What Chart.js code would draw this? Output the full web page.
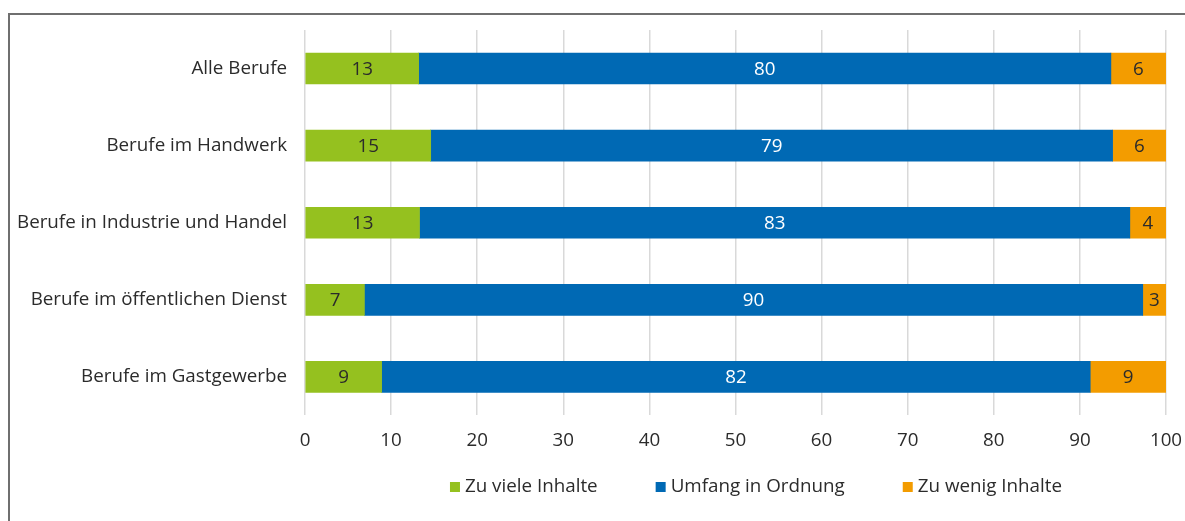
<!DOCTYPE html>
<html><head><meta charset="utf-8">
<script src="https://cdn.jsdelivr.net/npm/chart.js@4/dist/chart.umd.min.js"></script>
<style>
html,body{margin:0;padding:0;background:#fff;width:1185px;height:521px;overflow:hidden;}
#frame{position:absolute;left:8px;top:13px;width:1300px;height:700px;border-top:2px solid #6f6f6f;border-left:2px solid #6f6f6f;box-sizing:border-box;}
#wrap{position:absolute;left:0;top:0;width:1185px;height:521px;}
</style></head>
<body>
<div id="frame"></div>
<div id="wrap"><canvas id="c" width="1185" height="521"></canvas></div>
<script>
const categories = ["Alle Berufe","Berufe im Handwerk","Berufe in Industrie und Handel","Berufe im öffentlichen Dienst","Berufe im Gastgewerbe"];
const seriesNames = ["Zu viele Inhalte","Umfang in Ordnung","Zu wenig Inhalte"];
const zuViele = [13.2, 14.6, 13.3, 6.9, 8.9];
const umfangOk = [80.4, 79.2, 82.5, 90.4, 82.3];
const zuWenig = [6.4, 6.2, 4.2, 2.7, 8.8];
const xTicks = [0,10,20,30,40,50,60,70,80,90,100];

const FONT = "'Open Sans', 'Noto Sans', sans-serif";
const FS = 18.8;
const colors = ["#95c11f","#0069b4","#f39c00"];
const labelColors = ["#2b2b2b","#ffffff","#2b2b2b"];

const valueLabels = {
  id:'valueLabels',
  afterDatasetsDraw(chart){
    const ctx = chart.ctx;
    ctx.save();
    ctx.font = FS + "px " + FONT;
    ctx.textAlign = 'center';
    ctx.textBaseline = 'middle';
    chart.data.datasets.forEach((ds,i)=>{
      const meta = chart.getDatasetMeta(i);
      meta.data.forEach((el,j)=>{
        const cx = (el.x + el.base)/2;
        ctx.fillStyle = labelColors[i];
        ctx.fillText(String(Math.round(ds.data[j])), cx, el.y+1);
      });
    });
    ctx.restore();
  }
};

const customLegend = {
  id:'customLegend',
  afterDraw(chart){
    const ctx = chart.ctx;
    ctx.save();
    ctx.font = FS + "px " + FONT;
    ctx.textBaseline = 'middle';
    ctx.textAlign = 'left';
    const box = 10, gapText = 5, gapItem = 58, cy = 487, centerX = 756;
    const items = chart.data.datasets.map(ds=>({t:ds.label, c:ds.backgroundColor, w:ctx.measureText(ds.label).width}));
    const total = items.reduce((a,it)=>a+box+gapText+it.w,0) + gapItem*(items.length-1);
    let x = centerX - total/2;
    items.forEach(it=>{
      ctx.fillStyle = it.c;
      ctx.fillRect(x, cy-box/2, box, box);
      ctx.fillStyle = '#2b2b2b';
      ctx.fillText(it.t, x+box+gapText, cy);
      x += box+gapText+it.w+gapItem;
    });
    ctx.restore();
  }
};

new Chart(document.getElementById('c'), {
  type:'bar',
  data:{
    labels: categories,
    datasets:[
      {label:seriesNames[0], data:zuViele, backgroundColor:colors[0]},
      {label:seriesNames[1], data:umfangOk, backgroundColor:colors[1]},
      {label:seriesNames[2], data:zuWenig, backgroundColor:colors[2]}
    ]
  },
  options:{
    indexAxis:'y',
    responsive:false,
    animation:false,
    layout:{padding:{top:30,right:19,bottom:55,left:0}},
    datasets:{bar:{barThickness:31}},
    scales:{
      x:{
        stacked:true, min:0, max:100,
        afterBuildTicks(s){ s.ticks = xTicks.map(v=>({value:v})); },
        afterFit(s){ s.paddingRight = 0; s.paddingLeft = 0; },
        grid:{color:'#d9d9d9', lineWidth:1.5, drawTicks:false},
        border:{display:false},
        ticks:{padding:14, color:'#2b2b2b', font:{family:FONT, size:FS}}
      },
      y:{
        stacked:true,
        grid:{display:false, drawTicks:false},
        border:{display:false},
        afterFit(s){ s.width = 305; },
        ticks:{padding:18, color:'#2b2b2b', font:{family:FONT, size:FS}}
      }
    },
    plugins:{
      legend:{display:false},
      tooltip:{enabled:false}
    }
  },
  plugins:[valueLabels, customLegend]
});
</script>
</body></html>
